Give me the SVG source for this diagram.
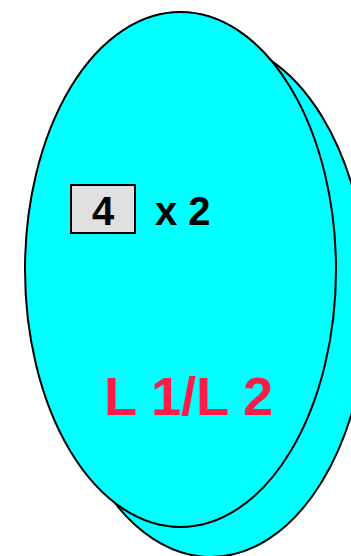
<svg xmlns="http://www.w3.org/2000/svg" width="351" height="556" viewBox="0 0 351 556">
<style>
.ell{fill:#00ffff;stroke:#000;stroke-width:2}
.t{font-family:"Liberation Sans",Arial,sans-serif;font-weight:bold}
</style>
<rect width="351" height="556" fill="#fff"/>
<g id="back-ellipse"><ellipse class="ell" cx="211" cy="299" rx="157" ry="258"/></g>
<g id="front-ellipse"><ellipse class="ell" cx="180.5" cy="269.5" rx="155.5" ry="257.5"/></g>
<g id="box4">
<rect x="71" y="185" width="64" height="48" fill="#e0e0e0" stroke="#000" stroke-width="2"/>
<text class="t" x="103" y="225" font-size="40" text-anchor="middle">4</text>
</g>
<g id="label-x2"><text class="t" x="155" y="225" font-size="40">x 2</text></g>
<g id="label-L"><text class="t" x="104" y="415" font-size="54" fill="#ff1a47">L 1/L 2</text></g>
<g id="connectors"></g>
</svg>
